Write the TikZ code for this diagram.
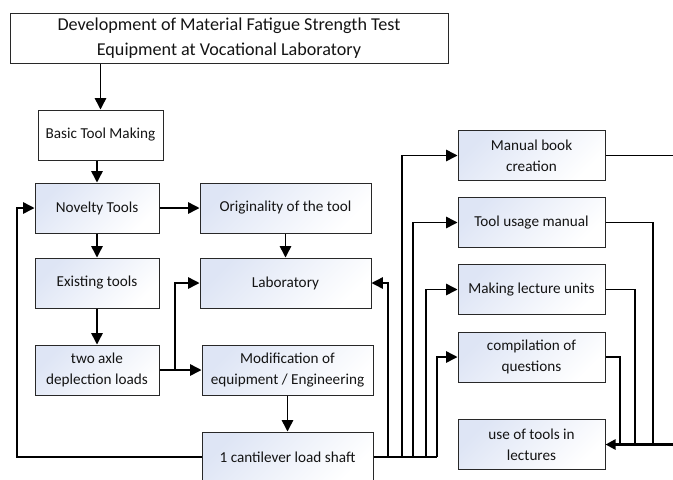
\documentclass[tikz,border=0pt]{standalone}
\usepackage{fontspec}
\setmainfont{Carlito}
\usetikzlibrary{arrows.meta}
\definecolor{boxblue}{RGB}{222,229,245}
\definecolor{boxline}{RGB}{40,40,40}
\definecolor{inkc}{RGB}{20,20,20}
\newcommand{\bodyfont}{\fontsize{11.4pt}{15.5pt}\selectfont}
\newcommand{\titlefont}{\fontsize{13.6pt}{19pt}\selectfont}
\begin{document}
\begin{tikzpicture}[x=0.75pt,y=-0.75pt,
  plainbox/.style={draw=boxline, line width=0.75pt, fill=white, inner sep=0pt,
    align=center, font=\bodyfont, text=inkc, minimum height=37.5pt},
  gradbox/.style={plainbox, top color=boxblue, bottom color=white, shading angle=45},
  wline/.style={line width=1.1pt, draw=black},
  conn/.style={wline, -{Triangle[length=8.5pt,width=8.5pt]}},
  heavy/.style={line width=1.9pt}]
\useasboundingbox (0,0) rectangle (673,479);
\clip (0,0) rectangle (673,479);

% boxes
\node[plainbox, minimum width=328.5pt, font=\titlefont] (title) at (229,38)
  {Development of Material Fatigue Strength Test\\Equipment at Vocational Laboratory};
\node[plainbox, minimum width=93.75pt] (basic) at (100.5,135) {Basic Tool Making};
\node[gradbox, minimum width=93pt] (novelty) at (97,208) {Novelty Tools};
\node[gradbox, minimum width=93pt] (existing) at (97,283) {Existing tools};
\node[gradbox, minimum width=93pt] (twoaxle) at (97,370) {two axle\\deplection loads};
\node[gradbox, minimum width=128.25pt] (orig) at (285.5,208) {Originality of the tool};
\node[gradbox, minimum width=128.25pt] (lab) at (285.5,283) {Laboratory};
\node[gradbox, minimum width=128.25pt] (modif) at (287.5,370) {Modification of\\equipment / Engineering};
\node[gradbox, minimum width=128.25pt] (cant) at (287.5,457) {1 cantilever load shaft};
\node[gradbox, minimum width=110.25pt] (manual) at (531.5,155.5) {Manual book\\creation};
\node[gradbox, minimum width=110.25pt] (usage) at (531.5,222.5) {Tool usage manual};
\node[gradbox, minimum width=110.25pt] (lecture) at (531.5,289.5) {Making lecture units};
\node[gradbox, minimum width=110.25pt] (compile) at (531.5,357) {compilation of\\questions};
\node[gradbox, minimum width=110.25pt] (uses) at (531.5,444.5) {use of tools in\\lectures};

% left column flow
\draw[conn] (basic.north |- title.south) -- (basic.north);
\draw[conn] (novelty.north |- basic.south) -- (novelty.north);
\draw[conn] (novelty) -- (orig);
\draw[conn] (orig) -- (lab);
\draw[conn] (novelty) -- (existing);
\draw[conn] (existing) -- (twoaxle);
\coordinate (split) at (175,370);
\draw[wline, heavy] (twoaxle.east) -- (split);
\draw[conn] (split) -- (modif);
\draw[conn] (split) |- (lab.west);
\draw[conn] (modif) -- (cant);

% feedback loop to the novelty tools
\coordinate (loopL) at (17,457);
\draw[conn] (cant.west) -- (loopL) |- (novelty.west);

% distribution bus from the cantilever shaft
\coordinate (b1) at (388,457);
\coordinate (b2) at (402,457);
\coordinate (b3) at (413,457);
\coordinate (b4) at (426,457);
\coordinate (b5) at (437,457);
\draw[wline, heavy] (cant.east) -- (b5);
\draw[conn] (b1) |- (lab.east);
\draw[conn] (b2) |- (manual.west);
\draw[conn] (b3) |- (usage.west);
\draw[conn] (b4) |- (lecture.west);
\draw[conn] (b5) |- (compile.west);

% collector into the lecture use box
\coordinate (rEdge) at (673,444.5);
\coordinate (c1) at (653,444.5);
\coordinate (c2) at (635,444.5);
\coordinate (c3) at (620,444.5);
\draw[wline] (manual.east) -- (manual.east -| rEdge);
\draw[wline] (usage.east) -| (c1);
\draw[wline] (lecture.east) -| (c2);
\draw[wline] (compile.east) -| (c3);
\draw[conn, heavy, -{Triangle[length=7.5pt,width=7.5pt]}] (rEdge) -- (uses.east);
\end{tikzpicture}
\end{document}
